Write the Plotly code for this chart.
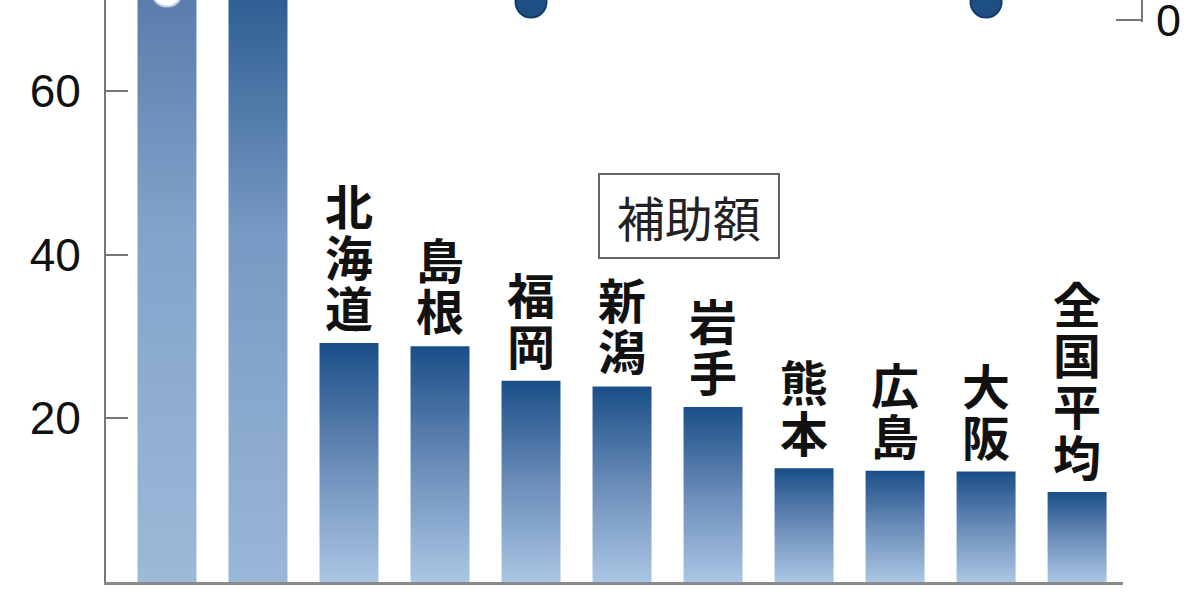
import plotly.graph_objects as go

# 補助額 by prefecture (first two bars run off the top of the crop)
labels = ["", "", "北海道", "島根", "福岡", "新潟", "岩手", "熊本", "広島", "大阪", "全国平均"]
values = [95, 85, 29.2, 28.8, 24.6, 23.9, 21.4, 13.9, 13.6, 13.5, 11.0]

# dots of the upper panel that show at the top edge
dot_pos = [0, 4, 9]
dot_vals = [1.45, 0.9, 0.9]

y_ticks = [0, 20, 40, 60]
Y_TOP = 71.12
HALF = 0.324

CJK = "Noto Sans CJK JP"
NUM = "Liberation Sans, Arial"

fig = go.Figure()

for i, v in enumerate(values):
    if i == 0:
        scale = [[0, "#9cb9d8"], [0.6, "#82a3ca"], [1, "#5a7dac"]]
    elif i == 1:
        scale = [[0, "#99b7d7"], [0.6, "#7899c3"], [1, "#2e5f93"]]
    else:
        scale = [[0, "#aac6e4"], [0.5, "#6a8cb8"], [1, "#1a4e88"]]
    fig.add_trace(go.Scatter(
        x=[i - HALF, i + HALF, i + HALF, i - HALF, i - HALF],
        y=[0, 0, v, v, 0],
        mode="lines", line=dict(width=0),
        fill="toself",
        fillgradient=dict(type="vertical", colorscale=scale,
                          start=0, stop=min(v, Y_TOP)),
        hoverinfo="skip", showlegend=False))

fig.add_trace(go.Scatter(
    x=dot_pos, y=dot_vals, yaxis="y2", mode="markers",
    marker=dict(size=31,
                color=["#ffffff", "#1d4f85", "#1d4f85"],
                line=dict(width=2, color=["#c3d1e2", "#103c6a", "#103c6a"])),
    hoverinfo="skip", showlegend=False))

# vertical labels above the bars, one character per line
PITCH = 51
for i, (lab, v) in enumerate(zip(labels, values)):
    for j, ch in enumerate(reversed(lab)):
        fig.add_annotation(x=i, y=v, text=ch, showarrow=False,
                           yanchor="bottom", yshift=0 + j * PITCH,
                           font=dict(family=CJK, size=48, color="#111111", weight="bold"))

fig.add_annotation(x=5.736, y=44.7, text="\u00a0補助額\u00a0", showarrow=False,
                   font=dict(family=CJK, size=48, color="#222222"),
                   bordercolor="#666666", borderwidth=2, borderpad=6,
                   bgcolor="#ffffff")

fig.update_layout(
    width=1200, height=600,
    margin=dict(l=106, r=58, t=0, b=18),
    paper_bgcolor="white", plot_bgcolor="rgba(0,0,0,0)",
    showlegend=False, hovermode=False,
    xaxis=dict(range=[-0.67, 10.505], domain=[0, 0.9817], automargin=False,
               showticklabels=False, ticks="", showgrid=False, zeroline=False,
               showline=True, linecolor="#8a8a8a", linewidth=3),
    yaxis=dict(range=[0, Y_TOP], tickvals=y_ticks, ticks="inside", ticklen=22,
               tickcolor="#777777", tickwidth=2, automargin=False,
               showgrid=False, zeroline=False,
               showline=True, linecolor="#777777", linewidth=2,
               ticklabelstandoff=14,
               tickfont=dict(family=NUM, size=46, color="#111111")),
    yaxis2=dict(domain=[1 - 22 / 582, 1], range=[-0.1, 1], anchor="free", position=1,
                side="right", tickvals=[0], ticks="inside", ticklen=25,
                tickcolor="#777777", tickwidth=2, automargin=False,
                showgrid=False, zeroline=False,
                showline=True, linecolor="#777777", linewidth=2,
                ticklabelstandoff=4, ticklabeloverflow="allow",
                tickfont=dict(family=NUM, size=45, color="#111111")),
)

fig.write_html("out.html", config={"displayModeBar": False},
               post_script="document.body.style.margin='0';")
